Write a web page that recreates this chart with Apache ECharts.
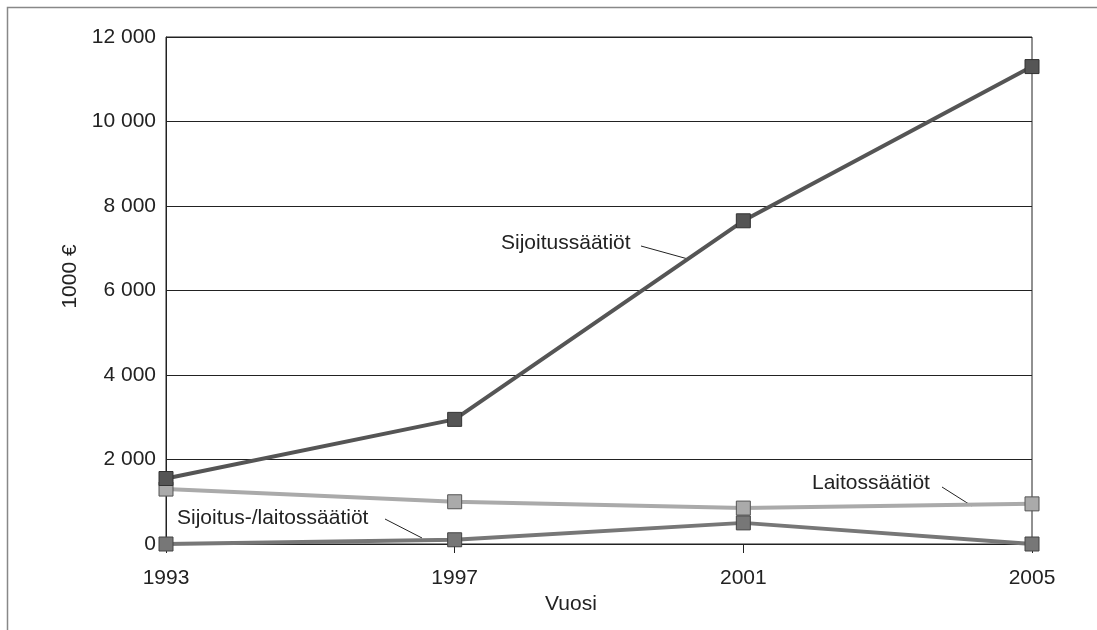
<!DOCTYPE html>
<html>
<head>
<meta charset="utf-8">
<script src="https://cdn.jsdelivr.net/npm/echarts@6/dist/echarts.min.js"></script>
<style>
  html, body { margin: 0; padding: 0; background: #fff; }
  #chart { width: 1097px; height: 630px; }
</style>
</head>
<body>
<div id="chart"></div>
<script>
const years = [1993, 1997, 2001, 2005]
const sijoitus = [1550, 2950, 7650, 11300]
const laitos = [1300, 1000, 850, 950]
const sekamuoto = [0, 100, 500, 0]

const FONT = "'Liberation Sans', Arial, sans-serif"
const pairs = (vals) => years.map((y, i) => [y, vals[i]])

const lineSeries = (name, vals, color, border) => ({
  name: name,
  type: 'line',
  data: pairs(vals),
  symbol: 'rect',
  symbolSize: 14,
  lineStyle: { color: color, width: 4 },
  itemStyle: { color: color, borderColor: border, borderWidth: 1 },
  emphasis: { disabled: true },
  z: 3
})

const chart = echarts.init(document.getElementById('chart'))
chart.setOption({
  animation: false,
  textStyle: { fontFamily: FONT },
  grid: {
    left: 166, right: 65, top: 37, bottom: 86,
    show: true, borderColor: '#222', borderWidth: 1
  },
  xAxis: {
    type: 'value',
    min: 1993, max: 2005, interval: 4,
    name: 'Vuosi',
    nameLocation: 'middle',
    nameGap: 50,
    nameTextStyle: { color: '#222', fontSize: 21, fontFamily: FONT, padding: [0, 56, 0, 0] },
    axisLine: { onZero: false, lineStyle: { color: '#222', width: 1 } },
    axisTick: { show: true, length: 9, lineStyle: { color: '#222' } },
    splitLine: { show: false },
    axisLabel: { color: '#222', fontSize: 21, fontFamily: FONT, margin: 24, formatter: (v) => String(v) }
  },
  yAxis: {
    type: 'value',
    min: 0, max: 12000, interval: 2000,
    name: '1000 €',
    nameLocation: 'middle',
    nameGap: 76,
    nameRotate: 90,
    nameTextStyle: { color: '#222', fontSize: 21, fontFamily: FONT, padding: [0, 0, 0, 28] },
    axisLine: { show: true, lineStyle: { color: '#222', width: 1 } },
    axisTick: { show: false },
    splitLine: { lineStyle: { color: '#222', width: 1 } },
    axisLabel: {
      color: '#222', fontSize: 21, fontFamily: FONT, margin: 10,
      formatter: (v) => v === 0 ? '0' : String(v).replace(/\B(?=(\d{3})+(?!\d))/g, ' ')
    }
  },
  series: [
    lineSeries('Laitossäätiöt', laitos, '#aaaaaa', '#555'),
    lineSeries('Sijoitus-/laitossäätiöt', sekamuoto, '#777777', '#444'),
    lineSeries('Sijoitussäätiöt', sijoitus, '#555555', '#333')
  ],
  graphic: [
    // kehys
    { type: 'rect', shape: { x: 7.5, y: 7.5, width: 1200, height: 800 }, style: { fill: 'none', stroke: '#888', lineWidth: 1.5 }, silent: true },
    // selitteet
    { type: 'text', left: 501, top: 233, style: { text: 'Sijoitussäätiöt', font: '21px ' + FONT, fill: '#222' } },
    { type: 'line', shape: { x1: 641, y1: 246, x2: 688, y2: 259 }, style: { stroke: '#222', lineWidth: 1 } },
    { type: 'text', left: 812, top: 473, style: { text: 'Laitossäätiöt', font: '21px ' + FONT, fill: '#222' } },
    { type: 'line', shape: { x1: 942, y1: 487, x2: 972, y2: 506 }, style: { stroke: '#222', lineWidth: 1 } },
    { type: 'text', left: 177, top: 508, style: { text: 'Sijoitus-/laitossäätiöt', font: '21px ' + FONT, fill: '#222' } },
    { type: 'line', shape: { x1: 385, y1: 519, x2: 422, y2: 538 }, style: { stroke: '#222', lineWidth: 1 } }
  ]
})
</script>
</body>
</html>
